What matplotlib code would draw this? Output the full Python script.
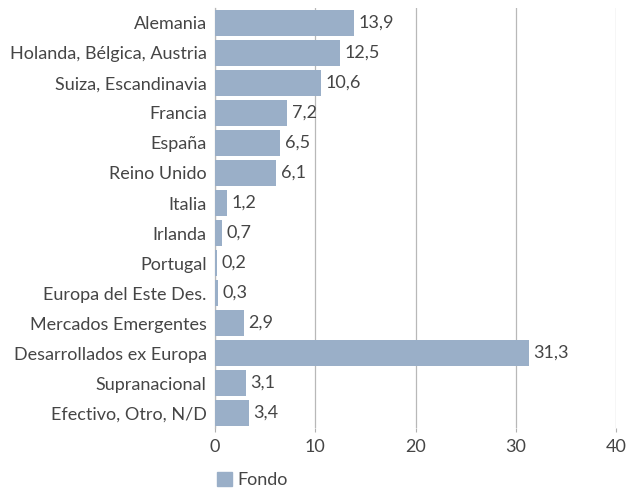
import matplotlib.pyplot as plt
from matplotlib.patches import Patch

plt.rcParams['font.family'] = ['Lato', 'DejaVu Sans']

categorias = ['Alemania', 'Holanda, Bélgica, Austria', 'Suiza, Escandinavia', 'Francia',
              'España', 'Reino Unido', 'Italia', 'Irlanda', 'Portugal',
              'Europa del Este Des.', 'Mercados Emergentes', 'Desarrollados ex Europa',
              'Supranacional', 'Efectivo, Otro, N/D']
fondo = [13.9, 12.5, 10.6, 7.2, 6.5, 6.1, 1.2, 0.7, 0.2, 0.3, 2.9, 31.3, 3.1, 3.4]

color_barra = '#9aafc8'
color_texto = '#454545'
fs = 13

fig = plt.figure(figsize=(6.28, 4.90), dpi=100)
ax = fig.add_axes([0.3424, 0.1265, 0.6385, 0.8572])

y = list(range(len(categorias)))
ax.barh(y, fondo, height=0.87, color=color_barra, zorder=3)
for yi, v in zip(y, fondo):
    ax.text(v + 0.45, yi, f'{v:.1f}'.replace('.', ','), va='center', ha='left',
            fontsize=fs, color=color_texto, zorder=4)

ax.set_yticks(y)
ax.set_yticklabels(categorias, fontsize=fs, color=color_texto)
ax.set_ylim(len(categorias) - 0.5, -0.5)
ax.set_xlim(0, 40)
ax.set_xticks([0, 10, 20, 30, 40])
ax.tick_params(axis='x', labelsize=fs, labelcolor=color_texto, length=3, color='#b0b0b0', pad=5)
ax.tick_params(axis='y', length=0, pad=6)
ax.grid(axis='x', color='#b8b8b8', linewidth=0.9, zorder=0)
for s in ['top', 'right', 'bottom']:
    ax.spines[s].set_visible(False)
ax.spines['left'].set_color('#b8b8b8')
ax.spines['left'].set_linewidth(0.9)

fig.legend(handles=[Patch(color=color_barra, label='Fondo')], loc='lower left',
           bbox_to_anchor=(0.32, -0.03), frameon=False, fontsize=fs,
           handlelength=0.8, handleheight=0.8, handletextpad=0.3,
           labelcolor=color_texto)

fig.savefig('out.png', dpi=100)
